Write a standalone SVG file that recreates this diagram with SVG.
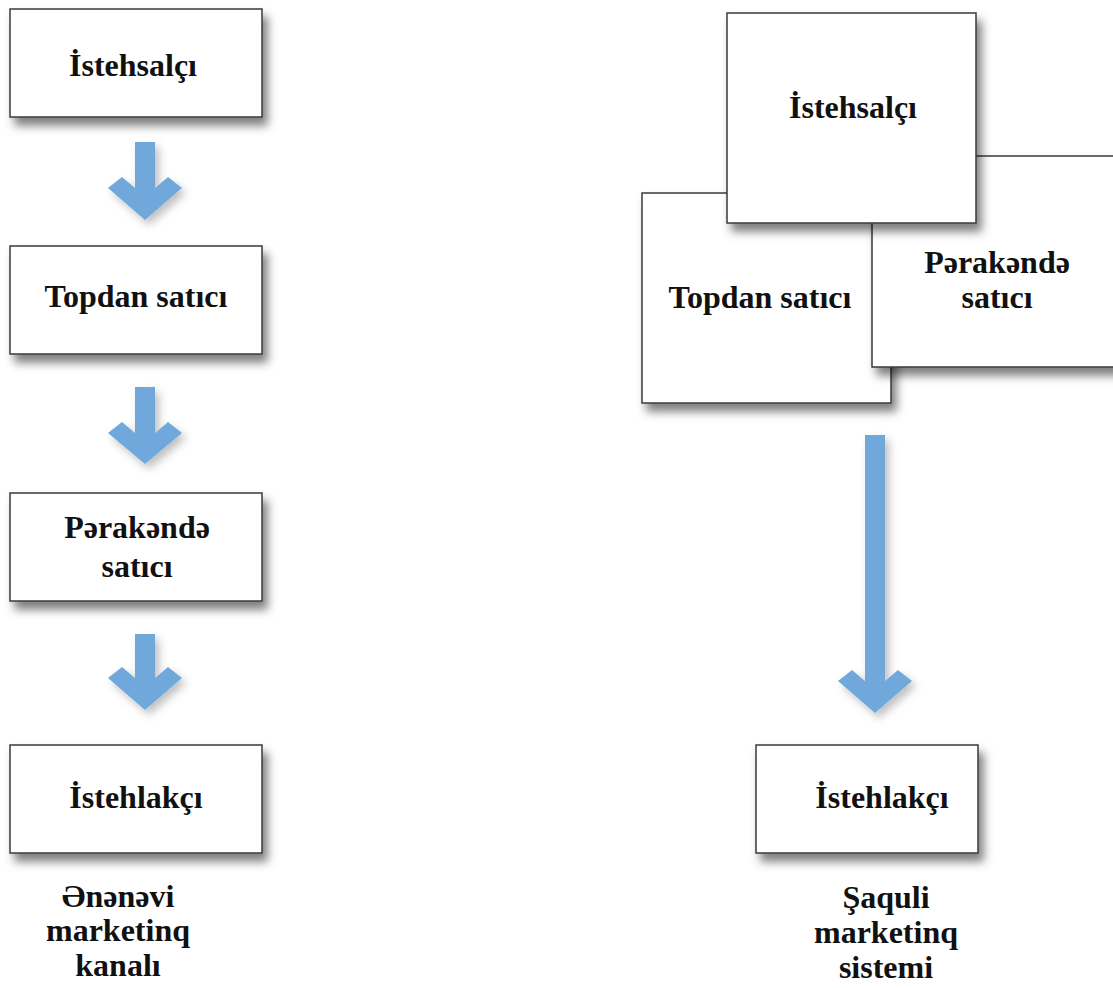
<svg xmlns="http://www.w3.org/2000/svg" width="1113" height="988" viewBox="0 0 1113 988">
<defs>
<filter id="sh" x="-20%" y="-20%" width="150%" height="160%">
<feDropShadow dx="5" dy="8" stdDeviation="5" flood-color="#000" flood-opacity="0.5"/>
</filter>
<filter id="ash" x="-30%" y="-20%" width="170%" height="150%">
<feDropShadow dx="4" dy="5" stdDeviation="4" flood-color="#000" flood-opacity="0.25"/>
</filter>
<style>
.box{fill:#fff;stroke:#3a3a3a;stroke-width:1.5;filter:url(#sh)}
.t{font-family:"Liberation Serif","Times New Roman",serif;font-weight:bold;font-size:32px;fill:#111;text-anchor:middle}
.arr{fill:#6fa8dc;filter:url(#ash)}
</style>
</defs>
<rect width="1113" height="988" fill="#fff"/>

<g id="connectors">
<polygon class="arr" points="135,142 155,142 155,188 168,177 182,188 145,220 108,188 122,177 135,188"/>
<polygon class="arr" points="135,387 155,387 155,433 168,422 182,433 145,464 108,433 122,422 135,433"/>
<polygon class="arr" points="135,634 155,634 155,678 168,667 182,678 145,710 108,678 122,667 135,678"/>
<polygon class="arr" points="865,435 885,435 885,681 898,670 912,681 875,713 838,681 852,670 865,681"/>
</g>

<g id="left-producer">
<rect class="box" x="10" y="9" width="252" height="108"/>
<text class="t" x="133" y="76">İstehsalçı</text>
</g>
<g id="left-wholesaler">
<rect class="box" x="10" y="246" width="252" height="108"/>
<text class="t" x="136" y="307">Topdan satıcı</text>
</g>
<g id="left-retailer">
<rect class="box" x="10" y="493" width="252" height="108"/>
<text class="t" x="137" y="538">Pərakəndə</text>
<text class="t" x="137" y="577">satıcı</text>
</g>
<g id="left-consumer">
<rect class="box" x="10" y="745" width="252" height="108"/>
<text class="t" x="136" y="808">İstehlakçı</text>
</g>
<g id="left-label">
<text class="t" x="118" y="907">Ənənəvi</text>
<text class="t" x="118" y="941">marketinq</text>
<text class="t" x="118" y="976">kanalı</text>
</g>

<g id="right-wholesaler">
<rect class="box" x="642" y="193" width="249" height="210"/>
<text class="t" x="760" y="308">Topdan satıcı</text>
</g>
<g id="right-retailer">
<rect class="box" x="872" y="156" width="250" height="211"/>
<text class="t" x="997" y="273">Pərakəndə</text>
<text class="t" x="997" y="308">satıcı</text>
</g>
<g id="right-producer">
<rect class="box" x="727" y="13" width="249" height="210"/>
<text class="t" x="853" y="118">İstehsalçı</text>
</g>
<g id="right-consumer">
<rect class="box" x="756" y="745" width="222" height="108"/>
<text class="t" x="882" y="808">İstehlakçı</text>
</g>
<g id="right-label">
<text class="t" x="886" y="908">Şaquli</text>
<text class="t" x="886" y="943">marketinq</text>
<text class="t" x="886" y="978">sistemi</text>
</g>
</svg>
